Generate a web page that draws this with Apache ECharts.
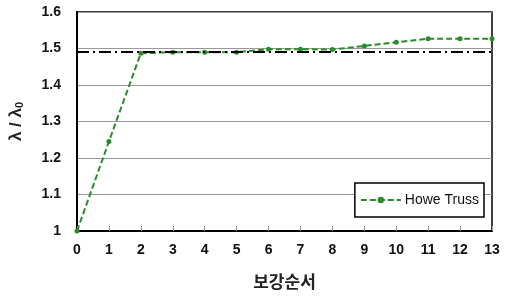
<!DOCTYPE html>
<html>
<head>
<meta charset="utf-8">
<script src="https://cdn.jsdelivr.net/npm/echarts@6/dist/echarts.min.js"></script>
<style>
  html, body { margin: 0; padding: 0; background: #fff; }
  #chart { width: 508px; height: 299px; }
</style>
</head>
<body>
<div id="chart"></div>
<script>
// reinforcement order (x) and buckling load ratio (y)
const steps = [0, 1, 2, 3, 4, 5, 6, 7, 8, 9, 10, 11, 12, 13];
const howeTruss = [1.0, 1.245, 1.487, 1.49, 1.49, 1.49, 1.498, 1.498, 1.497, 1.507, 1.517, 1.527, 1.527, 1.527];
const refLevel = 1.493;
const yTicks = [1, 1.1, 1.2, 1.3, 1.4, 1.5, 1.6];

const green = '#2b8a2b';
const font = 'Arial, "Liberation Sans", sans-serif';

const myChart = echarts.init(document.getElementById('chart'));
const option = {
  animation: false,
  textStyle: { fontFamily: font },
  grid: {
    left: 76, right: 16, top: 12, bottom: 68,
    show: true,
    borderColor: '#000',
    borderWidth: 1.5,
  },
  legend: {
    right: 24, top: 183,
    orient: 'vertical',
    backgroundColor: '#fff',
    borderColor: '#000',
    borderWidth: 1.5,
    borderRadius: 0,
    padding: [10, 5, 10, 5],
    itemWidth: 40,
    itemHeight: 8,
    itemGap: 4,
    textStyle: { fontSize: 14, color: '#111', fontFamily: font, padding: [0, 0, 0, -1] },
    data: ['Howe Truss'],
  },
  xAxis: {
    type: 'value',
    min: 0, max: 13, interval: 1,
    name: '보강순서',
    nameLocation: 'middle',
    nameGap: 42,
    nameTextStyle: { fontSize: 17, fontWeight: 'bold', color: '#222', fontFamily: '"Noto Sans CJK KR", sans-serif' },
    splitLine: { show: false },
    axisLine: { lineStyle: { color: '#000', width: 2 } },
    axisTick: { inside: true, length: 5, lineStyle: { color: '#999', width: 1 } },
    axisLabel: {
      fontSize: 14, fontWeight: 'bold', color: '#111', margin: 12,
      formatter: (v) => String(steps[v] !== undefined ? steps[v] : v),
    },
  },
  yAxis: {
    type: 'value',
    min: yTicks[0], max: yTicks[yTicks.length - 1], interval: 0.1,
    name: '{n|λ / λ}{s|0}',
    nameLocation: 'middle',
    nameGap: 52,
    nameRotate: 90,
    nameTextStyle: {
      rich: {
        n: { fontSize: 17, fontWeight: 'bold', color: '#222', fontFamily: font },
        s: { fontSize: 11, fontWeight: 'bold', color: '#222', fontFamily: font, verticalAlign: 'bottom', padding: [6, 0, 0, 0] },
      },
    },
    axisLine: { show: true, lineStyle: { color: '#000', width: 2 } },
    axisTick: { show: false },
    splitLine: { lineStyle: { color: '#999', width: 1 } },
    axisLabel: {
      fontSize: 14, fontWeight: 'bold', color: '#111', margin: 16,
      formatter: (v) => (Math.abs(v - 1) < 1e-9 ? '1' : v.toFixed(1)),
    },
  },
  series: [
    {
      name: 'Howe Truss',
      type: 'line',
      data: steps.map((s, i) => [s, howeTruss[i]]),
      symbol: 'circle',
      symbolSize: 5,
      itemStyle: { color: green },
      lineStyle: { color: green, width: 2, type: [6, 3] },
      markLine: {
        silent: true,
        symbol: 'none',
        label: { show: false },
        lineStyle: { color: '#000', width: 2, type: [12, 4, 2, 4] },
        data: [{ yAxis: refLevel }],
      },
      z: 3,
    },
  ],
};
myChart.setOption(option);
</script>
</body>
</html>
